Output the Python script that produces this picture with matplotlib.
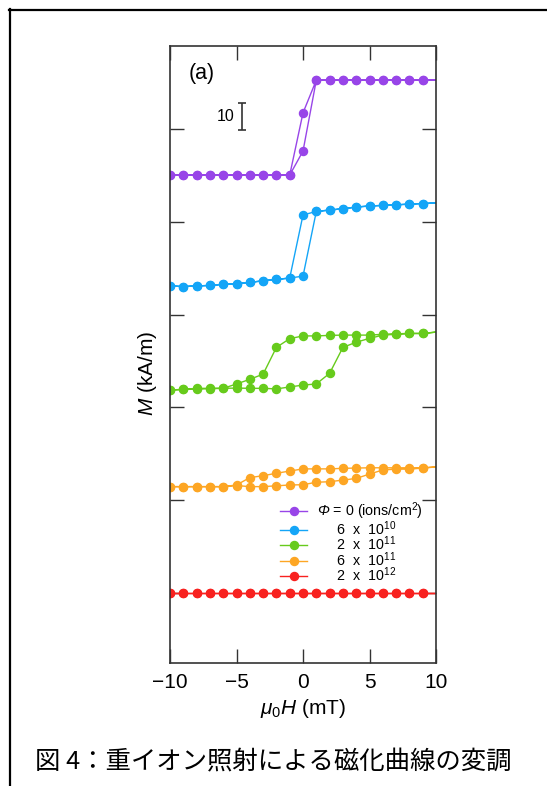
import numpy as np
import matplotlib
matplotlib.use("Agg")
import matplotlib.pyplot as plt
from matplotlib.lines import Line2D

plt.rcParams['font.family'] = ['Liberation Sans', 'DejaVu Sans']
plt.rcParams['mathtext.fontset'] = 'custom'
plt.rcParams['mathtext.rm'] = 'Liberation Sans'
plt.rcParams['mathtext.it'] = 'Liberation Sans:italic'
plt.rcParams['mathtext.sf'] = 'Liberation Sans:italic'   # italic capital Greek

# field values (mT)
H_up = np.arange(-10, 11)          # ascending branch, -10 -> 10
H_down = H_up[::-1]                # descending branch, 10 -> -10

# M (kA/m) relative to each curve's own centre
purple_up = [-17.4]*10 + [-8.6] + [17.4]*10
purple_down = [17.4]*10 + [5.4] + [-17.4]*10
blue_up = [-15.2, -15.4, -15.2, -15.0, -14.6, -14.4, -13.9, -13.3, -12.8, -12.3, -11.6,
           12.1, 12.6, 13.1, 13.7, 14.1, 14.3, 14.5, 14.8, 15.0, 15.2]
blue_down = [15.2, 15.0, 14.8, 14.5, 14.3, 14.1, 13.7, 13.1, 12.6, 12.1, 10.8,
             -12.3, -12.8, -13.3, -13.9, -14.4, -14.6, -15.0, -15.2, -15.4, -15.2]
green_up = [-10.6, -10.4, -10.0, -10.0, -10.0, -9.9, -10.0, -10.0, -10.2, -9.5, -8.8,
            -8.4, -4.5, 5.0, 6.9, 8.3, 9.5, 9.8, 10.1, 10.1, 10.6]
green_down = [10.6, 10.1, 10.1, 10.0, 9.8, 9.5, 9.5, 9.5, 9.4, 9.2, 9.2,
              8.2, 5.0, -4.8, -6.7, -8.4, -10.0, -10.1, -10.3, -10.4, -10.6]
orange_up = [-3.6, -3.6, -3.6, -3.6, -3.6, -3.2, -3.6, -3.6, -3.3, -3.0, -2.9,
             -2.0, -1.8, -1.2, -0.6, 1.0, 2.5, 2.8, 2.8, 3.2, 3.6]
orange_down = [3.6, 3.3, 3.3, 3.3, 3.3, 3.3, 3.2, 3.1, 2.9, 2.9, 2.9,
               2.1, 1.3, 0.4, -0.3, -3.0, -3.6, -3.6, -3.6, -3.6, -3.6]
red_up = [0.0]*21
red_down = [0.0]*21

offsets = [170.5, 127.7, 85.0, 42.6, 0.0]
labels = [r"$\mathsf{\Phi}$ = 0 (ions/cm$^2$)",
          r"     6  x  10$^{10}$",
          r"     2  x  10$^{11}$",
          r"     6  x  10$^{11}$",
          r"     2  x  10$^{12}$"]
colors = ['#9845E8', '#14A5F7', '#67CB1C', '#FDA624', '#F8211F']
branches = [(purple_down, purple_up), (blue_down, blue_up), (green_down, green_up),
            (orange_down, orange_up), (red_down, red_up)]

fig = plt.figure(figsize=(5.47, 7.86), dpi=100)
ax = fig.add_axes([0.3108, 0.1565, 0.4863, 0.785])

H_loop = np.concatenate([H_down, H_up])
marks = [i for i in range(len(H_loop)) if H_loop[i] != 10]
for (down, up), off, c, lab in zip(branches, offsets, colors, labels):
    M = np.concatenate([down, up]) + off
    ax.plot(H_loop, M, '-o', color=c, lw=1.0, ms=5.8, markevery=marks, label=lab)

ax.set_xlim(-10, 10)
ax.set_ylim(-25.6, 200.4)
ax.set_xticks([-10, -5, 0, 5, 10])
ax.set_xticklabels(['\u221210', '\u22125', '0', '5', '10'])
ax.set_yticks([0, 34, 68, 102, 136, 170])
ax.set_yticklabels([])
ax.tick_params(direction='in', length=10, width=1.0, color='#333333',
               top=True, right=True, labelsize=15, pad=7)
for s in ax.spines.values():
    s.set_color('#333333')
    s.set_linewidth(1.2)

ax.set_xlabel(r"$\mu_0H$ (mT)", fontsize=15, labelpad=4)
ax.set_ylabel(r"$M$ (kA/m)", fontsize=15)
ax.yaxis.set_label_coords(-0.04, 0.47)

ax.text(0.119, 0.956, "(a)", transform=ax.transAxes, fontsize=15.5,
        ha='center', va='center')

# 10 kA/m scale bar
ax.errorbar([-4.6], [174.6], yerr=5, color='#333333', capsize=3, elinewidth=1.2,
            capthick=1.2, fmt='none')
ax.text(-5.8, 174.5, "10", fontsize=11.5, ha='center', va='center')

ax.legend(loc='upper left', bbox_to_anchor=(0.414, 0.263), frameon=False,
          fontsize=10.3, borderpad=0, borderaxespad=0, handlelength=1.9,
          handletextpad=0.7, labelspacing=-0.22)

fig.text(0.5, 0.0305, "図 4：重イオン照射による磁化曲線の変調",
         family=['Noto Sans CJK JP', 'DejaVu Sans'], fontsize=18.3,
         ha='center', va='center')

# outer frame (top and left edges)
fig.add_artist(Line2D([9/547, 1], [1 - 10/786, 1 - 10/786], color='black', lw=1.6,
                      transform=fig.transFigure))
fig.add_artist(Line2D([10/547, 10/547], [0, 1 - 9/786], color='black', lw=1.6,
                      transform=fig.transFigure))

fig.savefig("out.png", dpi=100)
